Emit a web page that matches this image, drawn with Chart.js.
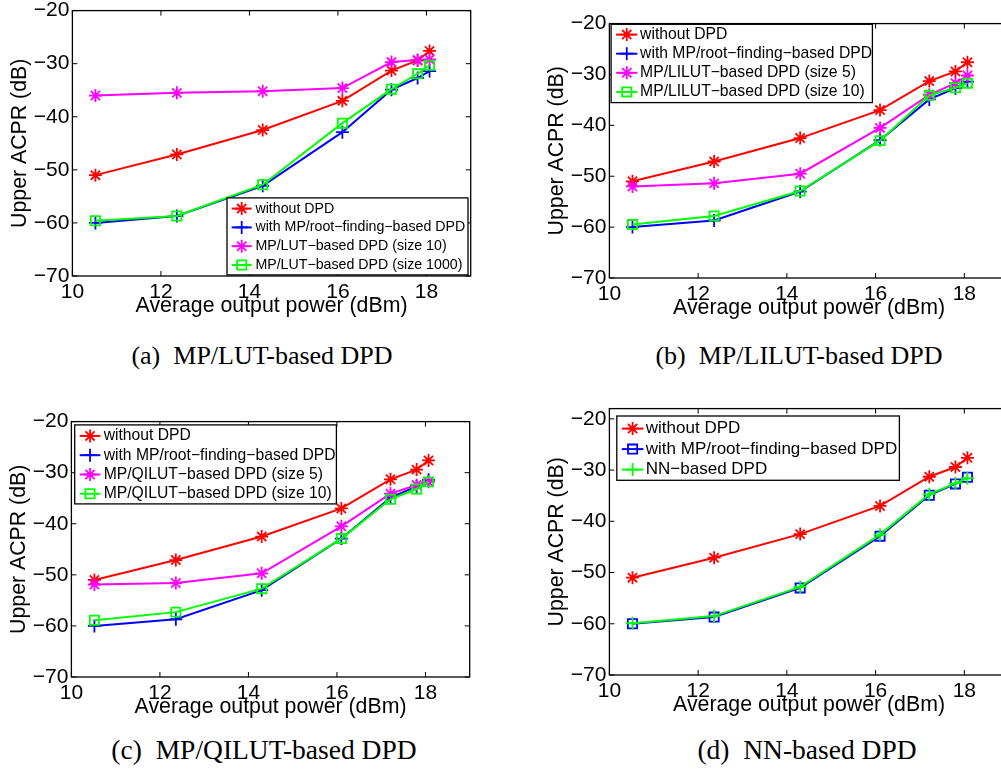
<!DOCTYPE html>
<html>
<head>
<meta charset="utf-8">
<title>Upper ACPR versus average output power</title>
<script src="https://cdn.jsdelivr.net/npm/chart.js@4.4.0/dist/chart.umd.min.js"></script>
<style>
  html, body { margin: 0; padding: 0; background: #fff; overflow: hidden; }
  body { width: 1001px; height: 772px; position: relative; }
  .panel { position: absolute; left: 0; top: 0; }
  .panel canvas { display: block; }
  .caption {
    position: absolute; width: 400px; text-align: center; white-space: pre;
    font-family: "Liberation Serif", "Times New Roman", serif;
    font-size: 26px; line-height: 30px; color: #000;
  }
  .caption.wide { font-size: 27.5px; }
</style>
</head>
<body>
<div class="panel" id="boxA"><canvas id="chartA" width="480" height="330"></canvas></div>
<div class="panel" id="boxB"><canvas id="chartB" width="480" height="330"></canvas></div>
<div class="panel" id="boxC"><canvas id="chartC" width="480" height="330"></canvas></div>
<div class="panel" id="boxD"><canvas id="chartD" width="480" height="330"></canvas></div>

<div class="caption" style="left:62px;top:341px">(a)  MP/LUT-based DPD</div>
<div class="caption" style="left:599px;top:341px">(b)  MP/LILUT-based DPD</div>
<div class="caption wide" style="left:64px;top:735px">(c)  MP/QILUT-based DPD</div>
<div class="caption wide" style="left:607px;top:735px">(d)  NN-based DPD</div>

<script>
// Average output power (dBm), same operating points in every panel
const outputPower = [10.52, 12.36, 14.3, 16.1, 17.21, 17.8, 18.07];
const xTicks = [10, 12, 14, 16, 18];
const yTicks = [-70, -60, -50, -40, -30, -20];

// Upper ACPR (dB)
const acprWithoutDpd = [-51, -47.1, -42.5, -37, -31.3, -29.4, -27.6];
const acprRootFinding = [-60, -58.7, -53, -42.9, -34.9, -32.7, -31.4];
const acprLut10 = [-36, -35.5, -35.2, -34.6, -29.7, -29.3, -29.2];
const acprLut1000 = [-59.6, -58.7, -52.8, -41.2, -34.8, -31.9, -30.3];
const acprLilut5 = [-52, -51.4, -49.5, -40.5, -34, -31.7, -30.2];
const acprLilut10 = [-59.5, -57.8, -52.9, -43, -34.1, -32.6, -31.7];
const acprQilut5 = [-51.9, -51.6, -49.7, -40.5, -34.1, -32.4, -31.8];
const acprQilut10 = [-58.9, -57.3, -52.7, -42.9, -35.2, -33.2, -31.8];
const acprNn = [-59.9, -58.5, -52.8, -42.6, -34.7, -32.6, -31.6];

const RED = '#ff0000';
const BLUE = '#0000ff';
const MAGENTA = '#ff00ff';
const GREEN = '#00ff00';
const FONT = '"Liberation Sans", Arial, Helvetica, sans-serif';

Chart.defaults.font.family = FONT;
Chart.defaults.color = '#000';

function series(label, values, color, marker, order) {
    return {
        label: label,
        data: values.map((v, i) => ({ x: outputPower[i], y: v })),
        borderColor: color,
        backgroundColor: color,
        borderWidth: 2,
        pointStyle: marker,
        pointRadius: 6.5,
        pointHoverRadius: 6,
        pointBorderWidth: 1.8,
        pointBorderColor: color,
        pointBackgroundColor: 'rgba(0,0,0,0)',
        tension: 0,
        clip: false,
        order: order
    };
}

// Matlab style box with inward ticks on all four sides
const framePlugin = {
    id: 'matlabFrame',
    afterDatasetsDraw(chart) {
        const { ctx, chartArea: a, scales } = chart;
        ctx.save();
        ctx.strokeStyle = '#000';
        ctx.lineWidth = 1.3;
        ctx.strokeRect(a.left, a.top, a.right - a.left, a.bottom - a.top);
        ctx.lineWidth = 1;
        ctx.beginPath();
        xTicks.forEach(v => {
            const px = scales.x.getPixelForValue(v);
            ctx.moveTo(px, a.bottom); ctx.lineTo(px, a.bottom - 5);
            ctx.moveTo(px, a.top); ctx.lineTo(px, a.top + 5);
        });
        yTicks.forEach(v => {
            const py = scales.y.getPixelForValue(v);
            ctx.moveTo(a.left, py); ctx.lineTo(a.left + 5, py);
            ctx.moveTo(a.right, py); ctx.lineTo(a.right - 5, py);
        });
        ctx.stroke();
        ctx.restore();
    }
};

// Boxed legend drawn inside the axes, line sample with marker in the middle
const legendPlugin = {
    id: 'matlabLegend',
    afterDraw(chart, args, opts) {
        const { ctx, chartArea: a } = chart;
        const x0 = a.left + opts.left;
        const y0 = a.top + opts.top;
        ctx.save();
        ctx.fillStyle = '#fff';
        ctx.fillRect(x0, y0, opts.width, opts.height);
        ctx.strokeStyle = '#000';
        ctx.lineWidth = 1.3;
        ctx.strokeRect(x0, y0, opts.width, opts.height);
        ctx.font = opts.font + 'px ' + FONT;
        ctx.textBaseline = 'middle';
        chart.data.datasets.forEach((d, i) => {
            const cy = y0 + opts.firstRow + i * opts.rowH;
            ctx.strokeStyle = d.borderColor;
            ctx.lineWidth = d.borderWidth;
            ctx.beginPath();
            ctx.moveTo(x0 + opts.lineStart, cy);
            ctx.lineTo(x0 + opts.lineEnd, cy);
            ctx.stroke();
            ctx.lineWidth = d.pointBorderWidth;
            ctx.fillStyle = 'rgba(0,0,0,0)';
            Chart.helpers.drawPoint(ctx, {
                pointStyle: d.pointStyle, radius: d.pointRadius,
                borderWidth: d.pointBorderWidth, rotation: 0
            }, x0 + (opts.lineStart + opts.lineEnd) / 2, cy);
            ctx.fillStyle = '#000';
            ctx.fillText(d.label, x0 + opts.textX, cy);
        });
        ctx.restore();
    }
};

const panels = [
    {
        canvas: 'chartA', box: 'boxA', yMax: -20,
        area: { left: 72.7, top: 11, right: 471, bottom: 276 },
        legend: { left: 154.6, top: 187.3, width: 241, height: 77, font: 14.2, rowH: 18.8, firstRow: 10.7, lineStart: 4.7, lineEnd: 24.7, textX: 28.4 },
        datasets: [
            series('without DPD', acprWithoutDpd, RED, 'star', 4),
            series('with MP/root\u2212finding\u2212based DPD', acprRootFinding, BLUE, 'cross', 3),
            series('MP/LUT\u2212based DPD (size 10)', acprLut10, MAGENTA, 'star', 2),
            series('MP/LUT\u2212based DPD (size 1000)', acprLut1000, GREEN, 'rect', 1)
        ]
    },
    {
        canvas: 'chartB', box: 'boxB', yMax: -20,
        area: { left: 609.3, top: 23.3, right: 1008.6, bottom: 277.3 },
        legend: { left: 1.7, top: 0.7, width: 261.3, height: 78.3, font: 15.7, rowH: 19.1, firstRow: 10.3, lineStart: 5, lineEnd: 26.3, textX: 29 },
        datasets: [
            series('without DPD', acprWithoutDpd, RED, 'star', 4),
            series('with MP/root\u2212finding\u2212based DPD', acprRootFinding, BLUE, 'cross', 3),
            series('MP/LILUT\u2212based DPD (size 5)', acprLilut5, MAGENTA, 'star', 2),
            series('MP/LILUT\u2212based DPD (size 10)', acprLilut10, GREEN, 'rect', 1)
        ]
    },
    {
        canvas: 'chartC', box: 'boxC', yMax: -20,
        area: { left: 71.7, top: 421.7, right: 470.5, bottom: 676.7 },
        legend: { left: 3.3, top: 3.3, width: 261.7, height: 79, font: 15.7, rowH: 19.3, firstRow: 11, lineStart: 5, lineEnd: 25.7, textX: 29 },
        datasets: [
            series('without DPD', acprWithoutDpd, RED, 'star', 4),
            series('with MP/root\u2212finding\u2212based DPD', acprRootFinding, BLUE, 'cross', 3),
            series('MP/QILUT\u2212based DPD (size 5)', acprQilut5, MAGENTA, 'star', 2),
            series('MP/QILUT\u2212based DPD (size 10)', acprQilut10, GREEN, 'rect', 1)
        ]
    },
    {
        canvas: 'chartD', box: 'boxD', yMax: -18,
        area: { left: 609.3, top: 408.3, right: 1008.6, bottom: 674.3 },
        legend: { left: 7.4, top: 7.4, width: 282.6, height: 64.3, font: 17, rowH: 20.5, firstRow: 12.6, lineStart: 5, lineEnd: 26.6, textX: 29 },
        datasets: [
            series('without DPD', acprWithoutDpd, RED, 'star', 3),
            series('with MP/root\u2212finding\u2212based DPD', acprRootFinding, BLUE, 'rect', 2),
            series('NN\u2212based DPD', acprNn, GREEN, 'cross', 1)
        ]
    }
];

function buildChart(p) {
    const tickFont = { size: 21, family: FONT };
    const titleFont = { size: 21.3, family: FONT };
    return new Chart(document.getElementById(p.canvas), {
        type: 'line',
        data: { datasets: p.datasets },
        plugins: [framePlugin, legendPlugin],
        options: {
            responsive: false,
            maintainAspectRatio: false,
            animation: false,
            devicePixelRatio: 1,
            events: [],
            layout: { padding: 0 },
            scales: {
                x: {
                    type: 'linear', min: 10, max: 19,
                    afterBuildTicks: s => { s.ticks = xTicks.map(v => ({ value: v })); },
                    afterFit: s => { s.height = 43; },
                    grid: { display: false, drawTicks: false },
                    border: { display: false },
                    ticks: { font: tickFont, color: '#000', padding: 4, maxRotation: 0, autoSkip: false },
                    title: { display: true, text: 'Average output power (dBm)', font: titleFont, color: '#000', padding: 0 }
                },
                y: {
                    type: 'linear', min: -70, max: p.yMax,
                    afterBuildTicks: s => { s.ticks = yTicks.map(v => ({ value: v })); },
                    afterFit: s => { s.width = 65.4; },
                    grid: { display: false, drawTicks: false },
                    border: { display: false },
                    ticks: {
                        font: tickFont, color: '#000', padding: 3, autoSkip: false,
                        callback: v => String(v).replace('-', '\u2212')
                    },
                    title: { display: true, text: 'Upper ACPR (dB)', font: titleFont, color: '#000', padding: 0 }
                }
            },
            plugins: {
                legend: { display: false },
                tooltip: { enabled: false },
                matlabLegend: p.legend
            }
        }
    });
}

// size and move each chart so its plot area lands where the reference has it
panels.forEach(p => {
    const chart = buildChart(p);
    const box = document.getElementById(p.box);
    const a = chart.chartArea;
    const w = Math.round(chart.width + (p.area.right - p.area.left) - (a.right - a.left));
    const h = Math.round(chart.height + (p.area.bottom - p.area.top) - (a.bottom - a.top));
    box.style.width = w + 'px';
    box.style.height = h + 'px';
    chart.resize(w, h);
    const b = chart.chartArea;
    box.style.left = Math.round(p.area.left - b.left) + 'px';
    box.style.top = Math.round(p.area.top - b.top) + 'px';
});
</script>
</body>
</html>
